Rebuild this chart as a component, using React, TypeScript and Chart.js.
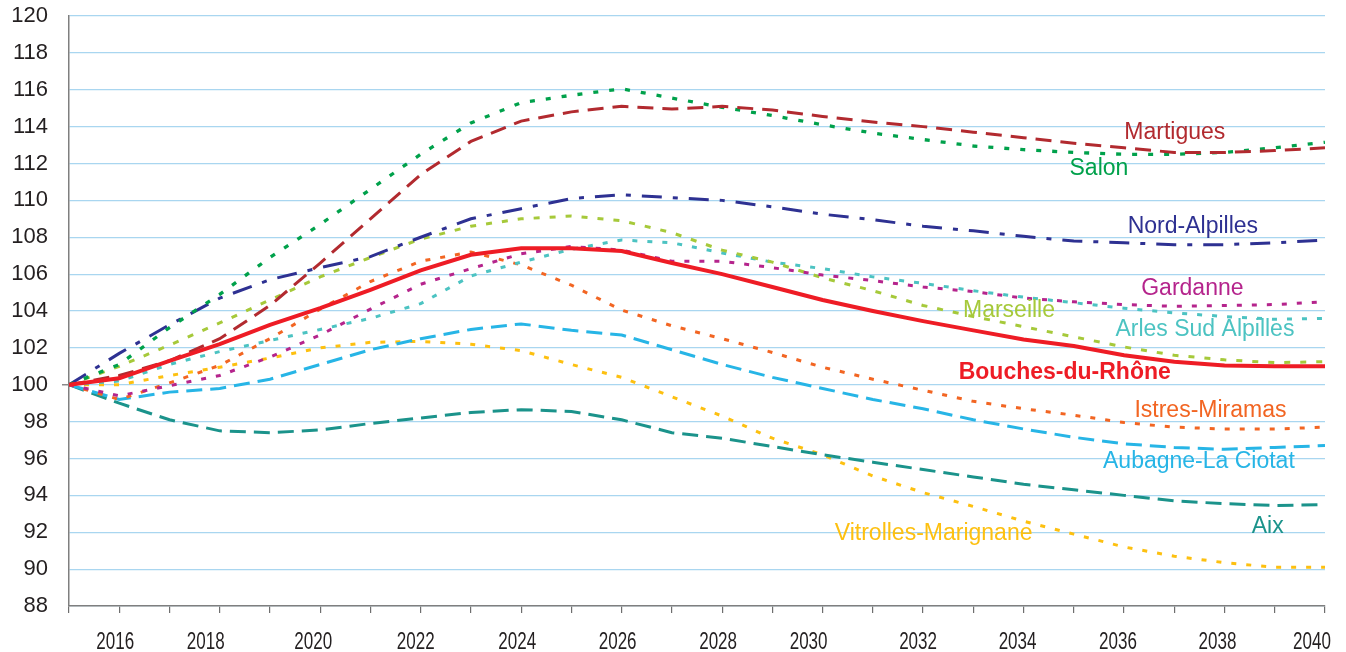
import React, { useEffect, useRef } from 'react';
import { Chart, registerables } from 'chart.js';

Chart.register(...registerables);

// ---------- DATA ----------
const years = [2015, 2016, 2017, 2018, 2019, 2020, 2021, 2022, 2023, 2024, 2025, 2026, 2027, 2028, 2029, 2030, 2031, 2032, 2033, 2034, 2035, 2036, 2037, 2038, 2039, 2040];

const bouchesDuRhone = [100, 100.35, 101.3, 102.2, 103.25, 104.15, 105.15, 106.2, 107.05, 107.4, 107.4, 107.25, 106.6, 106.0, 105.3, 104.6, 104.0, 103.45, 102.95, 102.45, 102.1, 101.6, 101.25, 101.05, 101.0, 101.0];
const martigues = [100, 100.5, 101.3, 102.5, 104.3, 106.6, 109.0, 111.4, 113.2, 114.3, 114.8, 115.1, 114.95, 115.1, 114.9, 114.55, 114.25, 114.0, 113.7, 113.4, 113.1, 112.85, 112.6, 112.6, 112.7, 112.85];
const salon = [100, 101.1, 103.1, 104.9, 106.9, 108.7, 110.6, 112.5, 114.2, 115.3, 115.7, 116.05, 115.55, 115.05, 114.6, 114.1, 113.65, 113.3, 112.95, 112.75, 112.6, 112.5, 112.5, 112.6, 112.85, 113.15];
const nordAlpilles = [100, 101.7, 103.25, 104.7, 105.7, 106.35, 106.95, 108.0, 109.0, 109.55, 110.1, 110.3, 110.15, 110.0, 109.65, 109.25, 108.95, 108.6, 108.35, 108.05, 107.8, 107.7, 107.6, 107.6, 107.7, 107.85];
const marseille = [100, 101.0, 102.15, 103.35, 104.6, 105.85, 106.9, 107.9, 108.6, 109.0, 109.15, 108.9, 108.25, 107.3, 106.65, 105.8, 105.1, 104.3, 103.7, 103.15, 102.6, 102.05, 101.6, 101.35, 101.2, 101.25];
const istresMiramas = [100, 99.2, 100.1, 101.05, 102.5, 104.1, 105.6, 106.7, 107.2, 106.5, 105.4, 104.05, 103.2, 102.5, 101.75, 100.95, 100.3, 99.7, 99.1, 98.7, 98.35, 97.95, 97.7, 97.6, 97.6, 97.7];
const gardanne = [100, 99.4, 99.95, 100.5, 101.5, 102.7, 104.1, 105.45, 106.3, 107.1, 107.5, 107.3, 106.7, 106.7, 106.35, 105.95, 105.65, 105.3, 105.05, 104.7, 104.5, 104.35, 104.25, 104.3, 104.35, 104.5];
const arlesSudAlpilles = [100, 100.2, 101.1, 101.8, 102.4, 103.0, 103.6, 104.4, 105.9, 106.65, 107.35, 107.85, 107.7, 107.15, 106.65, 106.3, 105.85, 105.5, 105.1, 104.75, 104.45, 104.15, 103.9, 103.7, 103.55, 103.6];
const aubagneLaCiotat = [100, 99.2, 99.6, 99.8, 100.3, 101.1, 101.9, 102.5, 103.0, 103.3, 102.95, 102.7, 101.9, 101.1, 100.4, 99.8, 99.2, 98.7, 98.1, 97.6, 97.15, 96.8, 96.6, 96.5, 96.6, 96.7];
const aix = [100, 99.0, 98.1, 97.5, 97.4, 97.55, 97.9, 98.2, 98.5, 98.65, 98.55, 98.1, 97.4, 97.1, 96.65, 96.2, 95.8, 95.4, 95.0, 94.6, 94.3, 94.0, 93.7, 93.55, 93.45, 93.5];
const vitrollesMarignane = [100, 100.0, 100.5, 100.95, 101.45, 102.0, 102.3, 102.35, 102.2, 101.85, 101.1, 100.4, 99.35, 98.3, 97.1, 96.2, 95.05, 94.15, 93.4, 92.6, 91.9, 91.2, 90.7, 90.35, 90.1, 90.1];

const xTickLabels = ['2016', '2018', '2020', '2022', '2024', '2026', '2028', '2030', '2032', '2034', '2036', '2038', '2040'];
const yMin = 88;
const yMax = 120;
const yStep = 2;

// ---------- STYLES ----------
// horizontal nudge (px) of each year label relative to its tick, as in the original
const xLabelNudge = [-4, -14, -7, -5, -4, -4, -4, -14, -5, -6, -6, -7, -13];

const series = [
  { name: 'Bouches-du-Rhône', values: bouchesDuRhone, color: '#EE1C25', width: 4, dash: [] as number[], label: { year: 2034.82, value: 100.65, bold: true } },
  { name: 'Martigues', values: martigues, color: '#B22A2F', width: 3, dash: [16, 9], label: { year: 2037.01, value: 113.69, bold: false } },
  { name: 'Salon', values: salon, color: '#00A14B', width: 3.3, dash: [5, 11], label: { year: 2035.5, value: 111.73, bold: false } },
  { name: 'Nord-Alpilles', values: nordAlpilles, color: '#2E3192', width: 3, dash: [20, 11, 5, 11], label: { year: 2037.37, value: 108.57, bold: false } },
  { name: 'Gardanne', values: gardanne, color: '#B5248C', width: 3, dash: [5, 10], label: { year: 2037.36, value: 105.23, bold: false } },
  { name: 'Marseille', values: marseille, color: '#A6C93A', width: 3, dash: [6, 10], label: { year: 2033.71, value: 104.04, bold: false } },
  { name: 'Arles Sud Alpilles', values: arlesSudAlpilles, color: '#4CC3C2', width: 3, dash: [5, 10], label: { year: 2037.61, value: 102.97, bold: false } },
  { name: 'Istres-Miramas', values: istresMiramas, color: '#F26522', width: 3, dash: [5, 10], label: { year: 2037.72, value: 98.6, bold: false } },
  { name: 'Aubagne-La Ciotat', values: aubagneLaCiotat, color: '#27B5E6', width: 3, dash: [16, 8], label: { year: 2037.49, value: 95.83, bold: false } },
  { name: 'Aix', values: aix, color: '#1B938B', width: 3, dash: [16, 8], label: { year: 2038.86, value: 92.31, bold: false } },
  { name: 'Vitrolles-Marignane', values: vitrollesMarignane, color: '#FDC010', width: 3, dash: [5, 10], label: { year: 2032.21, value: 91.94, bold: false } },
];

const FONT = '"Liberation Sans", Arial, Helvetica, sans-serif';
const AXIS_TEXT = '#231F20';

const labelsPlugin = {
  id: 'seriesLabels',
  afterDraw(chart: any) {
    const { ctx, scales } = chart;
    const x = scales.x;
    const y = scales.y;
    ctx.save();
    // small tick at 100 on the vertical axis
    const p100 = y.getPixelForValue(100);
    ctx.strokeStyle = '#8a8a8a';
    ctx.lineWidth = 1.5;
    ctx.beginPath();
    ctx.moveTo(x.left - 7, p100);
    ctx.lineTo(x.left, p100);
    ctx.stroke();

    // condensed year labels under the horizontal axis
    ctx.fillStyle = AXIS_TEXT;
    ctx.font = `23px ${FONT}`;
    ctx.textAlign = 'center';
    ctx.textBaseline = 'middle';
    const squeeze = 0.74;
    xTickLabels.forEach((t, i) => {
      const px = x.getPixelForValue(Number(t)) + (xLabelNudge[i] || 0);
      const py = y.bottom + 37;
      ctx.save();
      ctx.translate(px, py);
      ctx.scale(squeeze, 1);
      ctx.fillText(t, 0, 0);
      ctx.restore();
    });

    // series names
    series.forEach((s) => {
      ctx.font = `${s.label.bold ? 'bold ' : ''}23px ${FONT}`;
      ctx.fillStyle = s.color;
      ctx.fillText(s.name, x.getPixelForValue(s.label.year), y.getPixelForValue(s.label.value));
    });
    ctx.restore();
  },
};

export default function App() {
  const canvasRef = useRef<HTMLCanvasElement | null>(null);

  useEffect(() => {
    const canvas = canvasRef.current;
    if (!canvas) return;
    const chart = new Chart(canvas, {
      type: 'line',
      data: {
        datasets: series.map((s) => ({
          label: s.name,
          data: years.map((yr, i) => ({ x: yr, y: s.values[i] })),
          borderColor: s.color,
          backgroundColor: s.color,
          borderWidth: s.width,
          borderDash: s.dash,
          pointRadius: 0,
          pointHoverRadius: 0,
          tension: 0,
          fill: false,
        })),
      },
      options: {
        responsive: false,
        animation: false,
        events: [],
        layout: { padding: { top: 16, right: 21, left: 0, bottom: 0 } },
        plugins: {
          legend: { display: false },
          tooltip: { enabled: false },
          title: { display: false },
        },
        scales: {
          x: {
            type: 'linear',
            min: years[0],
            max: years[years.length - 1],
            afterFit: (s: any) => {
              s.height = 46;
              s.paddingLeft = 0;
              s.paddingRight = 0;
              s.paddingTop = 0;
              s.paddingBottom = 0;
            },
            afterBuildTicks: (s: any) => { s.ticks = years.map((v) => ({ value: v })); },
            grid: { drawOnChartArea: false, drawTicks: true, tickLength: 7, color: '#6f6f6f', lineWidth: 1.2 },
            border: { display: true, color: '#7f7f7f', width: 1.5 },
            ticks: {
              display: false,
              autoSkip: false,
              maxRotation: 0,
              minRotation: 0,
            },
          },
          y: {
            type: 'linear',
            min: yMin,
            max: yMax,
            afterFit: (s: any) => {
              s.width = 69;
              s.paddingTop = 0;
              s.paddingBottom = 0;
              s.paddingLeft = 0;
              s.paddingRight = 0;
            },
            grid: { color: '#A9D6F0', lineWidth: 1.2, drawTicks: false },
            border: { display: true, color: '#7f7f7f', width: 1.5 },
            ticks: {
              stepSize: yStep,
              padding: 21,
              color: AXIS_TEXT,
              font: { family: FONT, size: 22 },
              callback: (v: any) => String(v),
            },
          },
        },
      },
      plugins: [labelsPlugin],
    } as any);
    return () => chart.destroy();
  }, []);

  return (
    <div style={{ position: 'fixed', left: 0, top: 0, width: 1346, height: 652, background: '#ffffff' }}>
      <canvas ref={canvasRef} width={1346} height={652} style={{ display: 'block' }} />
    </div>
  );
}
